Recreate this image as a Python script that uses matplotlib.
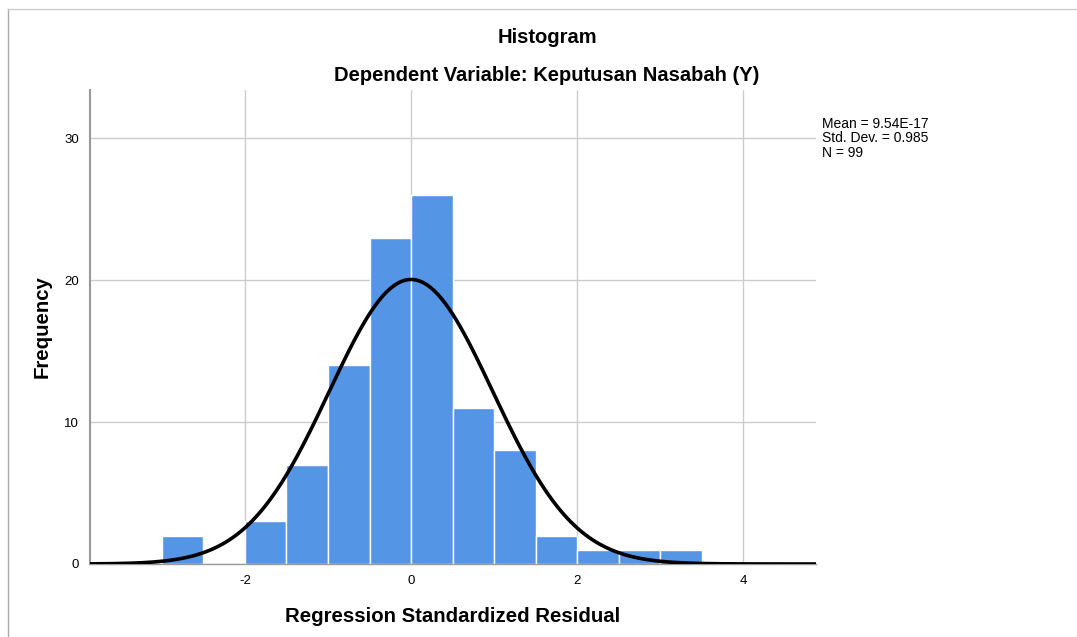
import numpy as np
import matplotlib
matplotlib.use('Agg')
import matplotlib.pyplot as plt

plt.rcParams['font.family'] = ['Liberation Sans', 'DejaVu Sans']
plt.rcParams['axes.unicode_minus'] = False

# bin edges of the histogram and counts
bin_left = [-3.0, -2.5, -2.0, -1.5, -1.0, -0.5, 0.0, 0.5, 1.0, 1.5, 2.0, 2.5, 3.0]
counts = [2, 0, 3, 7, 14, 23, 26, 11, 8, 2, 1, 1, 1]
bin_width = 0.5

# stats shown on the chart
mean = 9.54e-17
std = 0.985
n = 99

xticks = [-2, 0, 2, 4]
yticks = [0, 10, 20, 30]

fig = plt.figure(figsize=(10.77, 6.37), dpi=100)
ax = fig.add_axes([0.0836, 0.1146, 0.6741, 0.7441])

ax.bar(bin_left, counts, width=bin_width, align='edge', color='#5495E5',
       edgecolor='white', linewidth=1.0, zorder=2)

# normal curve scaled to the counts
xs = np.linspace(-3.867, 4.88, 400)
ys = n * bin_width / (std * np.sqrt(2 * np.pi)) * np.exp(-0.5 * ((xs - mean) / std) ** 2)
ax.plot(xs, ys, color='black', linewidth=2.6, zorder=3, solid_capstyle='butt')

ax.set_xlim(-3.867, 4.88)
ax.set_ylim(0, 33.4)
ax.set_xticks(xticks)
ax.set_yticks(yticks)
ax.tick_params(length=0, labelsize=9.5, pad=8)
ax.grid(True, color='#cccccc', linewidth=1.0, zorder=0)
ax.set_axisbelow(True)

for s in ['top', 'right']:
    ax.spines[s].set_visible(False)
ax.spines['left'].set_color('#999999')
ax.spines['left'].set_linewidth(1.5)
ax.spines['bottom'].set_color('#999999')
ax.spines['bottom'].set_linewidth(1.0)

ax.set_xlabel('Regression Standardized Residual', fontsize=14.7, fontweight='bold', labelpad=14)
ax.set_ylabel('Frequency', fontsize=14.7, fontweight='bold', labelpad=9)

fig.text(0.508, 0.941, 'Histogram', ha='center', va='center', fontsize=14.5, fontweight='bold')
fig.text(0.508, 0.882, 'Dependent Variable: Keputusan Nasabah (Y)', ha='center', va='center',
         fontsize=14.5, fontweight='bold')

fig.text(0.763, 0.817, 'Mean = 9.54E-17\nStd. Dev. = 0.985\nN = 99', ha='left', va='top',
         fontsize=10, linespacing=1.05)

# outer frame lines (left and top)
fig.add_artist(plt.Line2D([0.0075, 0.0075], [0, 0.986], color='#aaaaaa', linewidth=1.0))
fig.add_artist(plt.Line2D([0.0075, 1.0], [0.986, 0.986], color='#cccccc', linewidth=1.0))

fig.savefig('out.png', dpi=100)
